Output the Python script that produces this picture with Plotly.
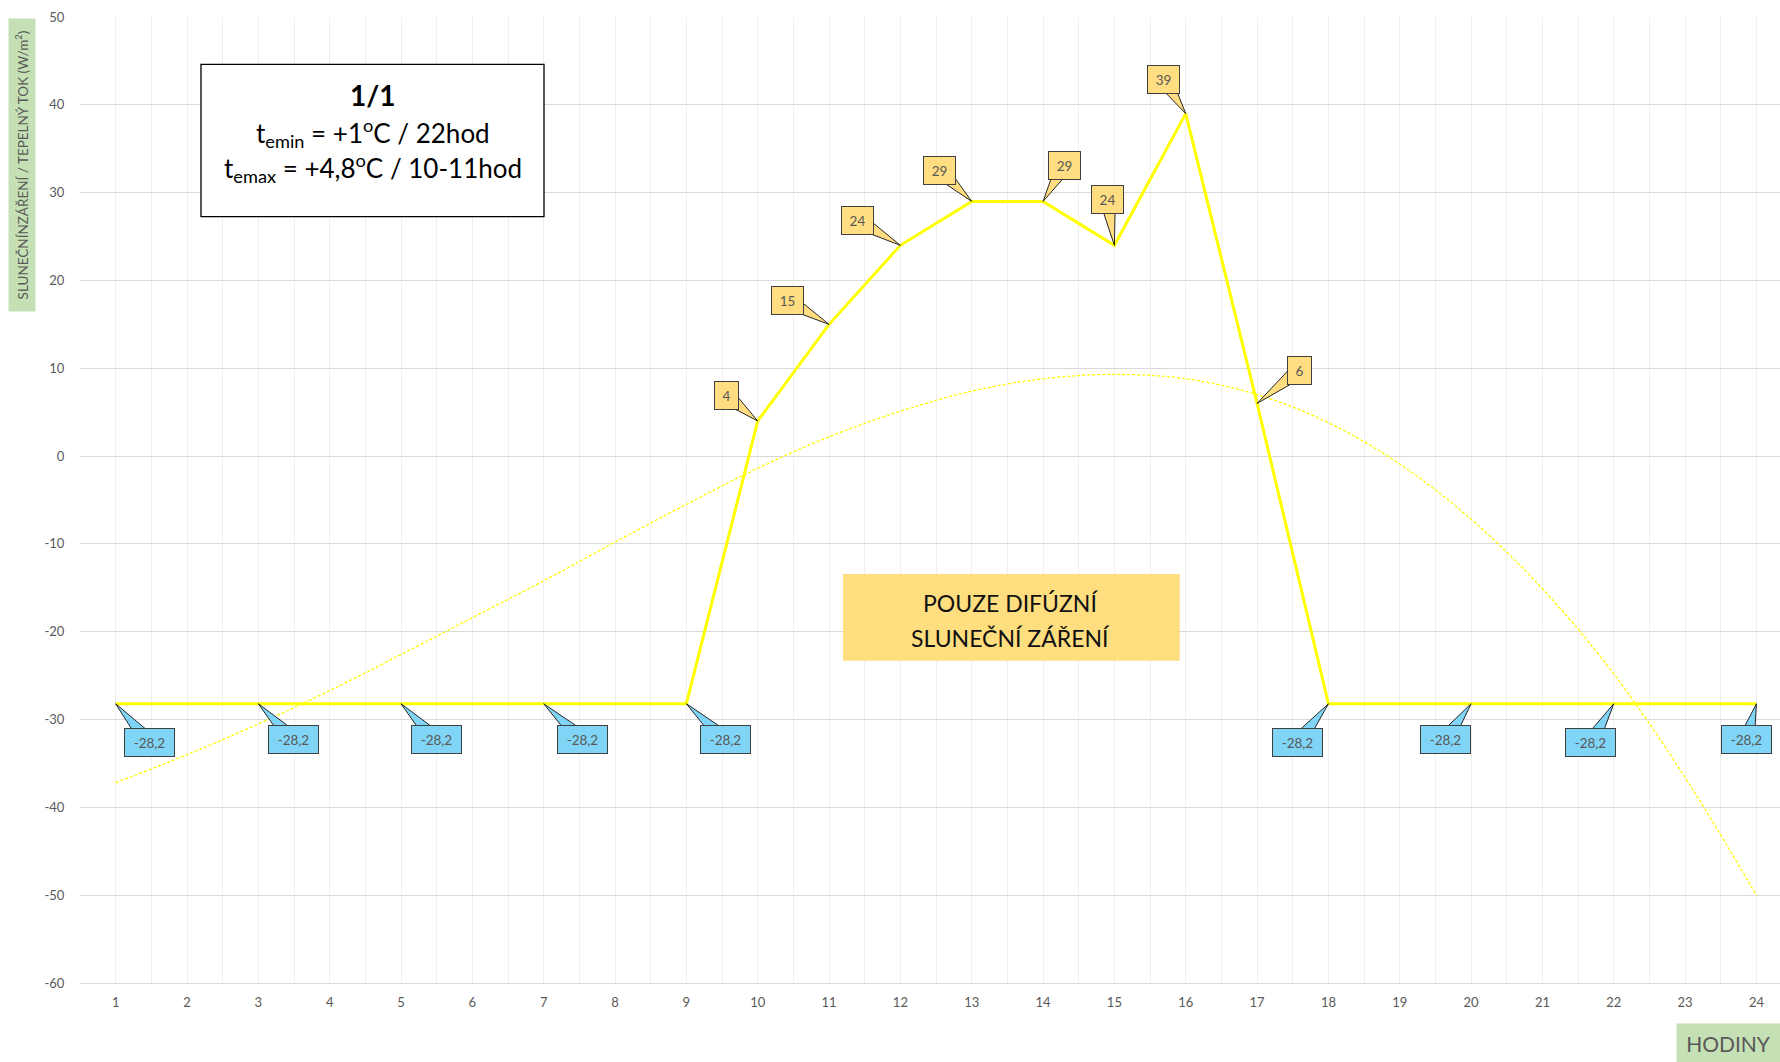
import math
import plotly.graph_objects as go

# ---------------- data ----------------
hours = list(range(1, 25))
hour_labels = [str(h) for h in hours]
flux = [-28.2, -28.2, -28.2, -28.2, -28.2, -28.2, -28.2, -28.2, -28.2,
        4, 15, 24, 29, 29, 24, 39, 6,
        -28.2, -28.2, -28.2, -28.2, -28.2, -28.2, -28.2]
trend = [-37.2, -34.0, -30.5, -26.7, -22.6, -18.4, -14.2, -9.8, -5.5, -1.4,
         2.2, 5.1, 7.4, 8.8, 9.3, 8.8, 7.0, 3.8, -0.9, -7.2,
         -15.1, -24.8, -36.6, -50.0]
labelled_hours = [1, 3, 5, 7, 9, 10, 11, 12, 13, 14, 15, 16, 17, 18, 20, 22, 24]
y_ticks = [50, 40, 30, 20, 10, 0, -10, -20, -30, -40, -50, -60]
y_tick_labels = ["50", "40", "30", "20", "10", "0", "-10", "-20", "-30", "-40", "-50", "-60"]

# callout offsets in screen pixels (dx right, dy down) - layout only
callout_offsets = {
    1: (34, 39), 3: (35, 36), 5: (35, 36), 7: (39, 36), 9: (39, 36),
    10: (-31, -25), 11: (-42, -24), 12: (-43, -25), 13: (-32, -31),
    14: (21, -36), 15: (-7, -46), 16: (-22, -34), 17: (42, -33),
    18: (-31, 39), 20: (-26, 36), 22: (-23, 39), 24: (-10, 36),
}

W, H = 1780, 1062
ML, MR, MT, MB = 80, 0, 17, 79
PW, PH = W - ML - MR, H - MT - MB


def px(xp):
    return (xp - ML) / PW


def py(yp):
    return (H - MB - yp) / PH


FONT = "Lato"
GRAY = "#595959"
YELLOW_BOX = "#FFDD80"
BLUE_BOX = "#80D4F6"
GREEN = "#C5E0B4"

fig = go.Figure()

fig.add_trace(go.Scatter(
    x=hours, y=trend, mode="lines",
    line=dict(color="#FFFF00", width=1.3, dash="3px,2px", shape="spline"),
    hoverinfo="skip", showlegend=False))

fig.add_trace(go.Scatter(
    x=hours, y=flux, mode="lines",
    line=dict(color="#FFFF00", width=3),
    showlegend=False))

shapes = []
annotations = []

# callouts
for h in labelled_hours:
    v = flux[hours.index(h)]
    dx, dy = callout_offsets[h]
    txt = ("%g" % v).replace(".", ",")
    is_neg = v < 0
    fill = BLUE_BOX if is_neg else YELLOW_BOX
    cx, cy = dx, -dy
    L = math.hypot(cx, cy)
    ux, uy = cx / L, cy / L
    nx, ny = -uy, ux
    hw = 8
    x1, y1 = cx + hw * nx, cy + hw * ny
    x2, y2 = cx - hw * nx, cy - hw * ny
    shapes.append(dict(
        type="path", xref="x", yref="y", xsizemode="pixel", ysizemode="pixel",
        xanchor=h, yanchor=v,
        path=f"M0,0 L{x1:.1f},{y1:.1f} L{x2:.1f},{y2:.1f} Z",
        fillcolor=fill, line=dict(color="#262626", width=1), layer="above"))
    width = {1: 15, 2: 23}.get(len(txt), 41)
    annotations.append(dict(
        x=h, y=v, xref="x", yref="y", text=txt, showarrow=False,
        xanchor="center", yanchor="middle",
        xshift=dx, yshift=-dy, width=width, height=19, borderpad=4,
        bgcolor=fill, bordercolor="#404040", borderwidth=1,
        font=dict(family=FONT, size=13.5, color=GRAY)))


def paper_text(xc, yc, text, size, color, **kw):
    d = dict(xref="paper", yref="paper", x=px(xc), y=py(yc), text=text,
             showarrow=False, xanchor="center", yanchor="middle",
             font=dict(family=FONT, size=size, color=color))
    d.update(kw)
    annotations.append(d)


# text box 1/1
shapes.append(dict(type="rect", xref="paper", yref="paper",
                   x0=px(201), x1=px(544), y0=py(216.7), y1=py(64.3),
                   line=dict(color="#000000", width=1.3), fillcolor="white",
                   layer="above"))
paper_text(372.5, 95, "<b>1/1</b>", 28, "#000000")
paper_text(372.5, 133, "t<sub>emin</sub> = +1<sup>o</sup>C / 22hod", 26, "#000000")
paper_text(372.5, 168, "t<sub>emax</sub> = +4,8<sup>o</sup>C / 10-11hod", 26, "#000000")

# POUZE DIFÚZNÍ box
shapes.append(dict(type="rect", xref="paper", yref="paper",
                   x0=px(843), x1=px(1179.7), y0=py(660.7), y1=py(574),
                   line=dict(width=0), fillcolor="rgba(255,218,114,0.9)",
                   layer="above"))
paper_text(1011, 603, "POUZE DIFÚZNÍ", 23, "#111111")
paper_text(1011, 638, "SLUNEČNÍ ZÁŘENÍ", 23, "#111111")

# axis titles
paper_text(22, 165, "SLUNEČNÍNZÁŘENÍ / TEPELNÝ TOK (W/m<sup>2</sup>)", 13.5, GRAY,
           textangle=-90, bgcolor=GREEN, width=288, height=22, borderpad=2)
paper_text(1728.4, 1043, "HODINY", 21, GRAY,
           bgcolor=GREEN, width=99, height=34, borderpad=2)

fig.update_layout(
    width=W, height=H,
    margin=dict(l=ML, r=MR, t=MT, b=MB, pad=0),
    paper_bgcolor="white", plot_bgcolor="white",
    font=dict(family=FONT, size=13, color=GRAY),
    showlegend=False,
    shapes=shapes, annotations=annotations,
    xaxis=dict(range=[0.5, 24.33], tickmode="array", tickvals=hours, ticktext=hour_labels,
               showgrid=True, gridcolor="#EFEFEF", gridwidth=1,
               minor=dict(dtick=0.5, tick0=0.5, showgrid=True, gridcolor="#EFEFEF", gridwidth=1),
               zeroline=False, showline=True, linecolor="#D9D9D9", linewidth=1,
               ticks="outside", ticklen=7, tickcolor="rgba(0,0,0,0)",
               tickfont=dict(family=FONT, size=13, color=GRAY)),
    yaxis=dict(range=[-60, 50], tickmode="array", tickvals=y_ticks, ticktext=y_tick_labels,
               showgrid=True, gridcolor="#D9D9D9", gridwidth=1,
               zeroline=False, showline=False,
               ticks="outside", ticklen=12, tickcolor="rgba(0,0,0,0)",
               tickfont=dict(family=FONT, size=13, color=GRAY)),
)

fig.write_html("out.html", config={"displayModeBar": False},
               post_script="document.body.style.margin='0';")
